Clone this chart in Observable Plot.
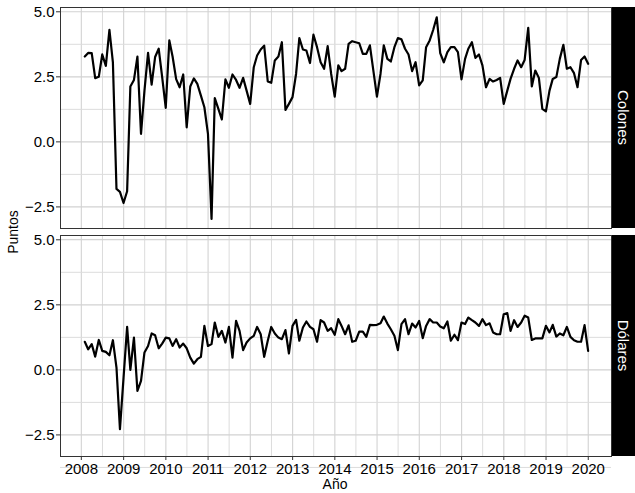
<!DOCTYPE html>
<html><head><meta charset="utf-8">
<script src="https://cdn.jsdelivr.net/npm/d3@7"></script>
<script src="https://cdn.jsdelivr.net/npm/@observablehq/plot@0.6"></script>
<style>
body{margin:0;background:#fff;}
#wrap{position:relative;width:635px;height:493px;font-family:"Liberation Sans",Arial,sans-serif;color:#000;}
#p1,#p2{position:absolute;left:0;}
#p1{top:0px}
#p2{top:231px}
#ylab{position:absolute;left:13px;top:232px;transform:translate(-50%,-50%) rotate(-90deg);font-size:14px;white-space:nowrap;}
#xlab{position:absolute;left:335px;top:484px;transform:translate(-50%,-50%);font-size:14px;}
</style></head>
<body>
<div id="wrap"><div id="p1"></div><div id="p2"></div><div id="ylab">Puntos</div><div id="xlab">Año</div></div>
<script>
// Monthly series, Jan 2008 – Dec 2019
const startYear = 2008;
const colones = [
 3.28,3.42,3.41,2.45,2.5,3.36,2.92,4.31,3.06,-1.81,-1.92,-2.35,
 -1.9,2.13,2.38,3.28,0.31,1.97,3.42,2.2,3.26,3.58,2.49,1.31,
 3.9,3.28,2.41,2.1,2.59,0.56,2.13,2.44,2.23,1.78,1.33,0.31,
 -2.96,1.68,1.27,0.86,2.4,2.08,2.59,2.38,2.08,2.46,1.97,1.46,
 2.87,3.32,3.55,3.7,2.32,2.27,3.13,3.28,3.83,1.23,1.46,1.72,
 2.62,3.99,3.55,3.51,3.03,4.12,3.64,3.06,2.81,3.68,2.62,1.74,
 2.94,2.72,2.81,3.77,3.87,3.83,3.79,3.38,3.38,3.71,2.74,1.74,
 2.62,3.71,3.19,3.09,3.64,3.99,3.94,3.58,3.36,2.72,3.06,2.17,
 2.36,3.64,3.9,4.3,4.79,3.41,3.06,3.45,3.64,3.64,3.45,2.4,
 3.19,3.58,3.83,3.23,3.36,2.94,2.1,2.42,2.32,2.38,2.46,1.46,
 1.97,2.42,2.81,3.13,2.87,3.15,4.38,2.13,2.74,2.46,1.27,1.17,
 1.97,2.42,2.49,3.19,3.73,2.81,2.87,2.64,2.1,3.15,3.28,3.0];
const dolares = [
 1.08,0.79,0.99,0.51,1.15,0.73,0.69,0.56,1.14,0.09,-2.28,-0.31,
 1.65,0.0,1.24,-0.81,-0.42,0.67,0.92,1.4,1.33,0.83,1.01,1.24,
 1.21,0.92,1.18,0.86,1.01,0.83,0.47,0.24,0.41,0.5,1.69,0.92,
 0.99,1.82,1.27,1.5,1.05,1.65,0.47,1.88,1.5,0.76,1.05,1.21,
 1.31,1.65,1.37,0.5,1.12,1.65,1.4,1.24,1.18,1.53,0.63,1.69,
 1.92,1.12,1.63,1.86,1.65,1.56,1.08,1.91,1.82,1.5,1.6,1.35,
 1.95,1.69,1.37,1.71,1.08,1.12,1.47,1.47,1.27,1.73,1.72,1.73,
 1.79,2.05,1.78,1.56,1.31,0.76,1.76,1.95,1.37,1.78,1.63,1.88,
 1.22,1.69,1.95,1.82,1.82,1.67,1.6,1.86,1.12,1.35,1.14,1.82,
 1.76,2.01,1.91,1.82,1.69,1.95,1.72,1.79,1.44,1.37,1.37,2.14,
 2.18,1.5,1.91,1.65,1.82,2.08,2.01,1.15,1.21,1.21,1.21,1.69,
 1.44,1.73,1.28,1.4,1.33,1.65,1.27,1.14,1.08,1.08,1.72,0.73];
const panels = ["Colones", "Dólares"];
const yearTicks = [2008,2009,2010,2011,2012,2013,2014,2015,2016,2017,2018,2019,2020];
const yMajor = [-2.5, 0, 2.5, 5];
const yMinor = [-3.75, -1.25, 1.25, 3.75];

// month-end dates
const monthEnd = i => new Date(Date.UTC(startYear, i + 1, 0));
const toRows = arr => arr.map((v, i) => ({date: monthEnd(i), value: v}));
const majorX = yearTicks.map(y => new Date(Date.UTC(y, 0, 1)));
const minorX = yearTicks.slice(0, -1).map(y => new Date(Date.UTC(y, 6, 2)));
const xDomain = [new Date(Date.UTC(2007, 6, 5)), new Date(Date.UTC(2020, 6, 20))];
const yDomain = [-3.33, 5.165];

function strip(label) {
  return (index, scales, values, dims) => {
    const g = d3.create("svg:g");
    const x0 = dims.width - dims.marginRight + 1;
    const y0 = dims.marginTop;
    const h = dims.height - dims.marginTop - dims.marginBottom;
    const w = dims.width - x0;
    g.append("rect").attr("x", x0).attr("y", y0).attr("width", w).attr("height", h).attr("fill", "#000");
    g.append("text").attr("transform", `translate(${x0 + w / 2},${y0 + h / 2}) rotate(90)`)
      .attr("text-anchor", "middle").attr("dy", "0.35em").attr("fill", "#fff")
      .style("font-size", "15px").text(label);
    return g.node();
  };
}

function panel(data, label, bottom) {
  const marks = [
    Plot.ruleX(minorX, {stroke: "#dcdcdc", strokeWidth: 1}),
    Plot.ruleX(majorX, {stroke: "#d2d2d2", strokeWidth: 1.1}),
    Plot.ruleY(yMinor, {stroke: "#dcdcdc", strokeWidth: 1}),
    Plot.ruleY(yMajor, {stroke: "#d2d2d2", strokeWidth: 1.1}),
    Plot.line(data, {x: "date", y: "value", stroke: "#000", strokeWidth: 2.2}),
    Plot.frame({stroke: "#333", strokeWidth: 1}),
    Plot.axisY(yMajor, {tickFormat: d3.format(".1f"), tickSize: 4, tickPadding: 2, label: null, stroke: "#333"}),
    strip(label)
  ];
  if (bottom) marks.push(Plot.axisX(majorX, {tickFormat: d3.utcFormat("%Y"), tickSize: 4, tickPadding: 3, label: null, stroke: "#333"}));
  return Plot.plot({
    width: 635,
    height: bottom ? 262 : 232,
    marginLeft: 60,
    marginRight: 24,
    marginTop: bottom ? 4 : 7,
    marginBottom: bottom ? 37 : 4,
    x: {type: "utc", domain: xDomain, axis: null},
    y: {domain: yDomain, axis: null},
    style: {fontFamily: '"Liberation Sans", Arial, sans-serif', fontSize: "15px", color: "#000", background: "transparent", overflow: "visible"},
    marks
  });
}

document.getElementById("p1").appendChild(panel(toRows(colones), panels[0], false));
document.getElementById("p2").appendChild(panel(toRows(dolares), panels[1], true));
</script>
</body></html>
